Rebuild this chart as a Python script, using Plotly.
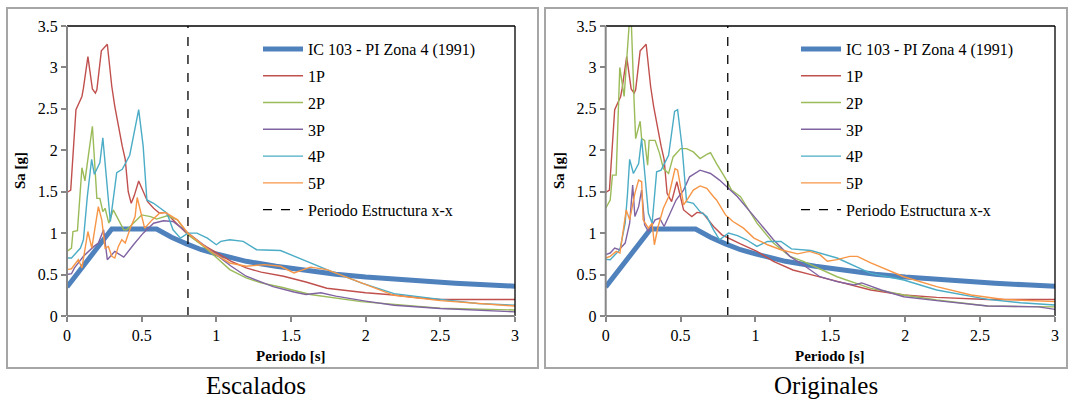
import plotly.graph_objects as go

W, H = 1072, 400

# ---------------- data ----------------
T_code = [0, 0.3, 0.6, 0.7, 0.8, 0.9, 1.0, 1.1, 1.2, 1.4, 1.6, 1.8, 2.0, 2.2, 2.4, 2.6, 2.8, 3.0]
Sa_code = [0.35, 1.05, 1.05, 0.95, 0.87, 0.80, 0.75, 0.70, 0.66, 0.60, 0.55, 0.505, 0.47, 0.44, 0.42, 0.395, 0.376, 0.36]

# Escalados
esc_T1 = [0, 0.025, 0.06, 0.1, 0.11, 0.14, 0.17, 0.19, 0.2, 0.23, 0.27, 0.3, 0.32, 0.35, 0.37, 0.39, 0.41, 0.43, 0.45, 0.48, 0.51, 0.54, 0.58, 0.62, 0.66, 0.71, 0.8, 0.9, 1.0, 1.1, 1.2, 1.3, 1.45, 1.6, 1.74, 2.0, 2.19, 2.35, 2.5, 3.0]
esc_S1 = [1.49, 1.52, 2.49, 2.65, 2.75, 3.13, 2.74, 2.69, 2.73, 3.2, 3.28, 2.77, 2.53, 2.21, 2.05, 1.89, 1.5, 1.36, 1.45, 1.63, 1.5, 1.38, 1.3, 1.24, 1.25, 1.16, 1.0, 0.87, 0.76, 0.66, 0.58, 0.53, 0.48, 0.41, 0.335, 0.28, 0.254, 0.22, 0.2, 0.2]
esc_T2 = [0, 0.03, 0.04, 0.07, 0.1, 0.12, 0.17, 0.18, 0.2, 0.22, 0.24, 0.255, 0.28, 0.31, 0.34, 0.38, 0.4, 0.445, 0.5, 0.56, 0.6, 0.67, 0.74, 0.81, 0.9, 0.98, 1.09, 1.2, 1.3, 1.43, 1.63, 1.97, 2.5, 3.0]
esc_S2 = [0.78, 0.82, 1.02, 1.03, 1.79, 1.63, 2.29, 2.01, 1.42, 1.42, 1.26, 1.3, 1.12, 1.28, 1.18, 1.04, 1.04, 1.12, 1.22, 1.2, 1.17, 1.21, 1.16, 0.98, 0.86, 0.74, 0.56, 0.46, 0.40, 0.35, 0.26, 0.173, 0.093, 0.073]
esc_T3 = [0, 0.03, 0.05, 0.11, 0.18, 0.21, 0.245, 0.27, 0.32, 0.38, 0.445, 0.51, 0.58, 0.645, 0.71, 0.81, 0.9, 0.98, 1.1, 1.2, 1.38, 1.52, 1.6, 1.7, 1.8, 2.0, 2.19, 2.5, 2.93, 3.0]
esc_S3 = [0.5, 0.51, 0.58, 0.72, 0.84, 0.88, 1.04, 0.68, 0.78, 0.71, 0.86, 1.0, 1.12, 1.15, 1.14, 1.0, 0.87, 0.76, 0.6, 0.48, 0.355, 0.29, 0.26, 0.28, 0.24, 0.18, 0.13, 0.09, 0.05, 0.05]
esc_T4 = [0, 0.03, 0.09, 0.11, 0.136, 0.165, 0.183, 0.22, 0.24, 0.28, 0.29, 0.333, 0.37, 0.42, 0.48, 0.51, 0.535, 0.58, 0.635, 0.67, 0.71, 0.76, 0.81, 0.87, 0.94, 1.0, 1.03, 1.09, 1.18, 1.27, 1.43, 1.56, 1.74, 1.97, 2.19, 2.5, 2.75, 3.0]
esc_S4 = [0.7, 0.7, 0.82, 0.92, 1.44, 1.89, 1.71, 1.85, 2.15, 1.28, 1.14, 1.73, 1.77, 1.94, 2.49, 2.05, 1.4, 1.36, 1.28, 1.24, 1.04, 0.94, 1.0, 1.0, 0.94, 0.86, 0.9, 0.92, 0.9, 0.8, 0.79, 0.69, 0.56, 0.4, 0.27, 0.2, 0.15, 0.13]
esc_T5 = [0, 0.03, 0.076, 0.1, 0.14, 0.166, 0.21, 0.233, 0.255, 0.277, 0.3, 0.32, 0.344, 0.367, 0.39, 0.42, 0.456, 0.47, 0.52, 0.57, 0.62, 0.66, 0.74, 0.81, 0.9, 0.98, 1.09, 1.2, 1.32, 1.43, 1.52, 1.63, 1.74, 1.97, 2.19, 2.5, 2.75, 3.0]
esc_S5 = [0.56, 0.57, 0.68, 0.58, 1.02, 0.82, 1.32, 1.16, 0.82, 0.84, 0.72, 0.70, 0.84, 0.92, 0.88, 1.04, 1.2, 1.43, 1.06, 1.16, 1.24, 1.25, 1.16, 1.0, 0.87, 0.76, 0.64, 0.6, 0.62, 0.6, 0.52, 0.59, 0.56, 0.4, 0.25, 0.185, 0.15, 0.12]

# Originales
ori_T1 = [0, 0.025, 0.06, 0.1, 0.11, 0.14, 0.17, 0.19, 0.2, 0.23, 0.27, 0.3, 0.32, 0.35, 0.37, 0.39, 0.41, 0.44, 0.475, 0.52, 0.575, 0.61, 0.65, 0.72, 0.776, 0.9, 1.01, 1.12, 1.25, 1.37, 1.545, 1.77, 1.99, 2.21, 2.55, 3.0]
ori_S1 = [1.49, 1.52, 2.49, 2.65, 2.75, 3.13, 2.74, 2.69, 2.73, 3.2, 3.28, 2.77, 2.53, 2.21, 2.05, 1.89, 1.48, 1.38, 1.62, 1.28, 1.2, 1.25, 1.24, 1.08, 0.98, 0.87, 0.78, 0.66, 0.555, 0.5, 0.415, 0.314, 0.253, 0.225, 0.2, 0.2]
ori_T2 = [0, 0.03, 0.045, 0.07, 0.094, 0.123, 0.16, 0.17, 0.19, 0.2, 0.23, 0.24, 0.26, 0.28, 0.29, 0.33, 0.36, 0.385, 0.42, 0.45, 0.5, 0.54, 0.585, 0.63, 0.675, 0.7, 0.74, 0.8, 0.84, 0.9, 1.01, 1.12, 1.23, 1.32, 1.545, 1.77, 1.99, 2.21, 2.55, 3.0]
ori_S2 = [1.3, 1.4, 1.7, 1.7, 3.0, 2.65, 3.6, 3.6, 2.57, 2.14, 2.35, 2.14, 2.12, 1.82, 2.12, 2.12, 1.96, 1.78, 1.72, 1.92, 2.02, 2.02, 1.98, 1.9, 1.95, 1.97, 1.84, 1.66, 1.52, 1.44, 1.12, 0.88, 0.72, 0.66, 0.474, 0.334, 0.253, 0.193, 0.12, 0.11]
ori_T3 = [0, 0.03, 0.06, 0.09, 0.13, 0.16, 0.18, 0.195, 0.22, 0.24, 0.26, 0.285, 0.33, 0.36, 0.39, 0.43, 0.47, 0.52, 0.56, 0.63, 0.7, 0.76, 0.81, 0.88, 1.01, 1.12, 1.23, 1.32, 1.43, 1.545, 1.66, 1.71, 1.84, 1.99, 2.21, 2.55, 2.89, 3.0]
ori_S3 = [0.74, 0.76, 0.82, 0.8, 0.88, 1.12, 1.58, 1.2, 1.32, 1.52, 1.1, 1.02, 1.16, 1.18, 1.08, 1.24, 1.4, 1.52, 1.68, 1.76, 1.72, 1.64, 1.56, 1.44, 1.16, 0.92, 0.72, 0.615, 0.474, 0.415, 0.375, 0.4, 0.314, 0.233, 0.185, 0.12, 0.11, 0.08]
ori_T4 = [0, 0.03, 0.095, 0.13, 0.145, 0.16, 0.185, 0.22, 0.24, 0.285, 0.31, 0.34, 0.37, 0.42, 0.46, 0.48, 0.51, 0.54, 0.585, 0.63, 0.675, 0.72, 0.76, 0.82, 0.88, 0.94, 1.01, 1.08, 1.17, 1.24, 1.37, 1.545, 1.77, 1.99, 2.21, 2.55, 2.77, 3.0]
ori_S4 = [0.684, 0.68, 0.8, 1.12, 1.46, 1.89, 1.72, 1.84, 2.14, 1.24, 1.12, 1.74, 1.76, 1.94, 2.47, 2.49, 2.04, 1.38, 1.36, 1.26, 1.2, 1.04, 0.92, 1.0, 0.97, 0.92, 0.84, 0.9, 0.9, 0.81, 0.79, 0.7, 0.515, 0.435, 0.314, 0.2, 0.16, 0.133]
ori_T5 = [0, 0.03, 0.07, 0.095, 0.137, 0.16, 0.195, 0.22, 0.24, 0.25, 0.285, 0.31, 0.325, 0.35, 0.385, 0.42, 0.463, 0.48, 0.5, 0.52, 0.55, 0.585, 0.63, 0.675, 0.72, 0.74, 0.8, 0.85, 0.92, 0.99, 1.08, 1.17, 1.28, 1.36, 1.43, 1.48, 1.545, 1.63, 1.68, 1.77, 1.99, 2.21, 2.44, 2.66, 3.0]
ori_S5 = [0.7, 0.72, 0.78, 0.76, 1.28, 1.16, 1.48, 1.64, 1.62, 1.16, 1.06, 1.12, 0.86, 1.08, 1.3, 1.44, 1.78, 1.76, 1.56, 1.34, 1.42, 1.52, 1.57, 1.54, 1.44, 1.4, 1.22, 1.14, 1.06, 0.94, 0.86, 0.8, 0.75, 0.78, 0.74, 0.66, 0.68, 0.72, 0.72, 0.64, 0.474, 0.354, 0.253, 0.2, 0.173]

T_struct_esc = 0.81
T_struct_ori = 0.815

names = ["IC 103 - PI Zona 4 (1991)", "1P", "2P", "3P", "4P", "5P", "Periodo Estructura x-x"]
colors = ["#4F81BD", "#C0504D", "#9BBB59", "#8064A2", "#4BACC6", "#F79646"]

x_ticks = [0, 0.5, 1, 1.5, 2, 2.5, 3]
y_ticks = [0, 0.5, 1, 1.5, 2, 2.5, 3, 3.5]
x_ticklabels = ["0", "0.5", "1", "1.5", "2", "2.5", "3"]
y_ticklabels = ["0", "0.5", "1", "1.5", "2", "2.5", "3", "3.5"]

# ---------------- figure ----------------
def px(x):
    return x / W

def py(y):
    return 1 - y / H

SERIF = "Liberation Serif"
fig = go.Figure()

panels = [
    dict(xa="x", ya="y", leg="legend",
         series=[(esc_T1, esc_S1), (esc_T2, esc_S2), (esc_T3, esc_S3), (esc_T4, esc_S4), (esc_T5, esc_S5)],
         ts=T_struct_esc),
    dict(xa="x2", ya="y2", leg="legend2",
         series=[(ori_T1, ori_S1), (ori_T2, ori_S2), (ori_T3, ori_S3), (ori_T4, ori_S4), (ori_T5, ori_S5)],
         ts=T_struct_ori),
]

for p in panels:
    fig.add_trace(go.Scatter(x=T_code, y=Sa_code, mode="lines", name=names[0],
                             line=dict(color=colors[0], width=5), xaxis=p["xa"], yaxis=p["ya"],
                             legend=p["leg"], legendgroup=p["leg"] + "0"))
    for i, (tt, ss) in enumerate(p["series"]):
        fig.add_trace(go.Scatter(x=tt, y=ss, mode="lines", name=names[i + 1],
                                 line=dict(color=colors[i + 1], width=1.4), xaxis=p["xa"], yaxis=p["ya"],
                                 legend=p["leg"], legendgroup=p["leg"] + str(i + 1)))
    fig.add_trace(go.Scatter(x=[p["ts"], p["ts"]], y=[0, 3.5], mode="lines", name=names[6],
                             line=dict(color="black", width=1.3, dash="dash"), xaxis=p["xa"], yaxis=p["ya"],
                             legend=p["leg"], legendgroup=p["leg"] + "6"))

plot_boxes = [(67, 515), (605.7, 1055)]
top_px, bot_px = 26, 316

axis_common = dict(showgrid=False, zeroline=False, showline=False, ticks="outside", ticklen=5,
                   tickwidth=1.5, tickcolor="#868686", tickfont=dict(family=SERIF, size=16, color="black"),
                   automargin=False, fixedrange=True)

fig.update_layout(
    xaxis=dict(domain=[px(67), px(515)], range=[0, 3], anchor="y", tickvals=x_ticks, ticktext=x_ticklabels, **axis_common),
    yaxis=dict(domain=[py(bot_px), py(top_px)], range=[0, 3.5], anchor="x", tickvals=y_ticks, ticktext=y_ticklabels, **axis_common),
    xaxis2=dict(domain=[px(605.7), px(1055)], range=[0, 3], anchor="y2", tickvals=x_ticks, ticktext=x_ticklabels, **axis_common),
    yaxis2=dict(domain=[py(bot_px), py(top_px)], range=[0, 3.5], anchor="x2", tickvals=y_ticks, ticktext=y_ticklabels, **axis_common),
)

leg_common = dict(font=dict(family=SERIF, size=16, color="black"), bgcolor="rgba(0,0,0,0)",
                  borderwidth=0, xanchor="left", yanchor="top", tracegroupgap=3, itemwidth=40)
fig.update_layout(
    legend=dict(x=px(258), y=py(32), **leg_common),
    legend2=dict(x=px(796), y=py(32), **leg_common),
)

shapes = []
for (x0, x1) in plot_boxes:
    shapes.append(dict(type="line", xref="paper", yref="paper", x0=px(x0), x1=px(x1), y0=py(top_px), y1=py(top_px),
                       line=dict(color="black", width=1.3)))
    shapes.append(dict(type="line", xref="paper", yref="paper", x0=px(x1), x1=px(x1), y0=py(top_px), y1=py(bot_px),
                       line=dict(color="black", width=1.3)))
    shapes.append(dict(type="line", xref="paper", yref="paper", x0=px(x0), x1=px(x0), y0=py(top_px), y1=py(bot_px),
                       line=dict(color="#868686", width=2)))
    shapes.append(dict(type="line", xref="paper", yref="paper", x0=px(x0), x1=px(x1), y0=py(bot_px), y1=py(bot_px),
                       line=dict(color="#868686", width=2)))
for (fx0, fx1) in [(7, 538), (545, 1067)]:
    shapes.append(dict(type="rect", xref="paper", yref="paper", x0=px(fx0), x1=px(fx1), y0=py(368), y1=py(8),
                       line=dict(color="#A6A6A6", width=2), fillcolor="rgba(0,0,0,0)", layer="below"))
fig.update_layout(shapes=shapes)

annotations = []
for (x0, x1), ylab_x, cap, cap_x in [((67, 515), 20, "Escalados", 256), ((605.7, 1055), 559, "Originales", 826)]:
    annotations.append(dict(text="<b>Sa [g]</b>", xref="paper", yref="paper", x=px(ylab_x), y=py(171),
                            showarrow=False, textangle=-90, font=dict(family=SERIF, size=15, color="black"),
                            xanchor="center", yanchor="middle"))
    annotations.append(dict(text="<b>Periodo [s]</b>", xref="paper", yref="paper", x=px((x0 + x1) / 2), y=py(356),
                            showarrow=False, font=dict(family=SERIF, size=15, color="black"),
                            xanchor="center", yanchor="middle"))
    annotations.append(dict(text=cap, xref="paper", yref="paper", x=px(cap_x), y=py(385),
                            showarrow=False, font=dict(family=SERIF, size=25, color="black"),
                            xanchor="center", yanchor="middle"))
fig.update_layout(annotations=annotations)

fig.update_layout(width=W, height=H, margin=dict(l=0, r=0, t=0, b=0), paper_bgcolor="white",
                  plot_bgcolor="white", template="none", showlegend=True)

fig.write_html("out.html", config={"displayModeBar": False},
               post_script="document.body.style.margin='0';document.body.style.overflow='hidden';")
